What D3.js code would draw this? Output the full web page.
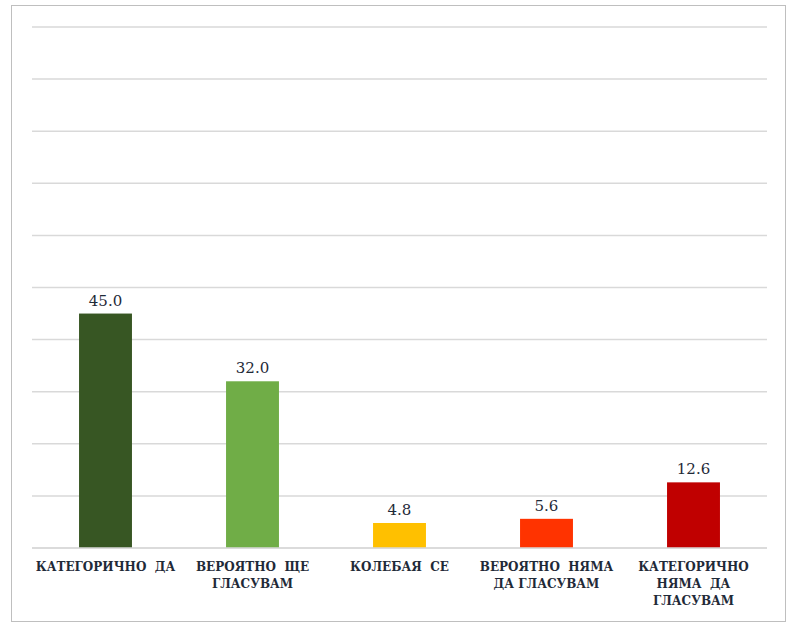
<!DOCTYPE html>
<html>
<head>
<meta charset="utf-8">
<script src="https://cdn.jsdelivr.net/npm/d3@7"></script>
<style>
  body { margin: 0; background: #fff; }
  svg { display: block; }
  text { font-family: 'DejaVu Serif', serif; }
</style>
</head>
<body>
<svg id="chart" width="794" height="631"></svg>
<script>
// data
var categories = ['КАТЕГОРИЧНО  ДА', 'ВЕРОЯТНО ЩЕ ГЛАСУВАМ', 'КОЛЕБАЯ  СЕ', 'ВЕРОЯТНО  НЯМА ДА ГЛАСУВАМ', 'КАТЕГОРИЧНО НЯМА  ДА ГЛАСУВАМ'];
var labelLines = [
    ['КАТЕГОРИЧНО  ДА'],
    ['ВЕРОЯТНО  ЩЕ', 'ГЛАСУВАМ'],
    ['КОЛЕБАЯ  СЕ'],
    ['ВЕРОЯТНО  НЯМА', 'ДА ГЛАСУВАМ'],
    ['КАТЕГОРИЧНО', 'НЯМА  ДА', 'ГЛАСУВАМ']
];
var values = [45.0, 32.0, 4.8, 5.6, 12.6];
var colors = ['#375623', '#70AD47', '#FFC000', '#FF3300', '#C00000'];
var gridTicks = [0, 10, 20, 30, 40, 50, 60, 70, 80, 90, 100];

/**************************************************************************************/

var svg = d3.select('#chart');
var margin = { left: 32, right: 27, top: 27, bottom: 83 };
var width = 794, height = 631;

// outer border
svg.append('rect')
    .attr('x', 11.5).attr('y', 5.5)
    .attr('width', 774).attr('height', 616)
    .attr('fill', '#fff')
    .attr('stroke', '#bfbfbf').attr('stroke-width', 1);

var x = d3.scaleBand()
    .domain(categories)
    .range([margin.left, width - margin.right])
    .paddingInner(0.64)
    .paddingOuter(0.32);

var y = d3.scaleLinear()
    .domain([0, 100])
    .range([height - margin.bottom, margin.top]);

// gridlines
svg.append('g')
    .selectAll('line')
    .data(gridTicks)
    .enter().append('line')
    .attr('x1', margin.left).attr('x2', width - margin.right)
    .attr('y1', function(d){ return y(d); })
    .attr('y2', function(d){ return y(d); })
    .attr('stroke', '#d9d9d9')
    .attr('stroke-width', 1.5);

// bars
svg.append('g')
    .selectAll('rect')
    .data(values)
    .enter().append('rect')
    .attr('x', function(d, i){ return x(categories[i]); })
    .attr('y', function(d){ return y(d); })
    .attr('width', x.bandwidth())
    .attr('height', function(d){ return y(0) - y(d); })
    .attr('fill', function(d, i){ return colors[i]; });

// baseline on top of bars
svg.append('line')
    .attr('x1', margin.left).attr('x2', width - margin.right)
    .attr('y1', y(0)).attr('y2', y(0))
    .attr('stroke', '#d9d9d9').attr('stroke-width', 1.5);

// value labels
svg.append('g')
    .selectAll('text')
    .data(values)
    .enter().append('text')
    .attr('x', function(d, i){ return x(categories[i]) + x.bandwidth()/2; })
    .attr('y', function(d){ return y(d) - 8; })
    .attr('text-anchor', 'middle')
    .style('font-size', '15px')
    .attr('fill', '#1f2a38')
    .text(function(d){ return d.toFixed(1); });

// category labels
var cat = svg.append('g')
    .selectAll('text')
    .data(labelLines)
    .enter().append('text')
    .attr('text-anchor', 'middle')
    .style('font-weight', 'bold')
    .style('font-size', '12px')
    .attr('fill', '#1f2a38')
    .attr('transform', function(d, i){
        return 'translate(' + (x(categories[i]) + x.bandwidth()/2) + ',' + (y(0) + 23) + ')';
    });

cat.selectAll('tspan')
    .data(function(d){ return d; })
    .enter().append('tspan')
    .attr('x', 0)
    .attr('dy', function(d, i){ return i === 0 ? 0 : 17; })
    .style('white-space', 'pre')
    .text(function(d){ return d; });
</script>
</body>
</html>
